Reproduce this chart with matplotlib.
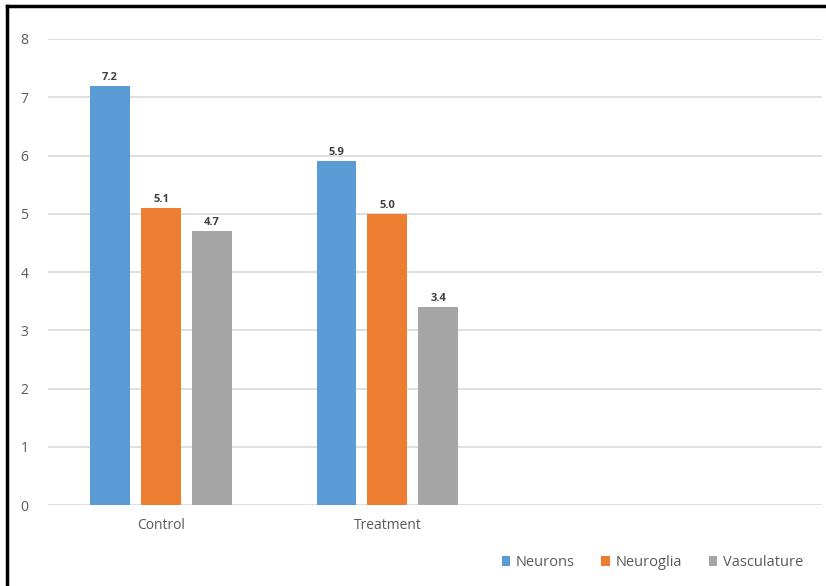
import matplotlib.pyplot as plt
import numpy as np
from matplotlib.lines import Line2D

categories = ['Control', 'Treatment']
series = ['Neurons', 'Neuroglia', 'Vasculature']
neurons = [7.2, 5.9]
neuroglia = [5.1, 5.0]
vasculature = [4.7, 3.4]
colors = ['#5B9BD5', '#ED7D31', '#A5A5A5']

plt.rcParams['font.family'] = ['Open Sans', 'DejaVu Sans']

fig = plt.figure(figsize=(8.26, 5.86), dpi=100)
ax = fig.add_axes([0.058, 0.138, 0.937, 0.7955])

x = np.arange(len(categories))
w = 0.176
offsets = [-0.225, 0, 0.225]
for vals, name, c, off in zip([neurons, neuroglia, vasculature], series, colors, offsets):
    bars = ax.bar(x + off, vals, w, color=c, label=name, zorder=3)
    for b, v in zip(bars, vals):
        ax.text(b.get_x() + b.get_width() / 2, v + 0.05, '%.1f' % v,
                ha='center', va='bottom', fontsize=8, fontweight='bold',
                color='#404040', zorder=4)

ax.set_xlim(-0.5, 2.92)
ax.set_ylim(0, 8)
ax.set_yticks(range(0, 9))
ax.set_xticks(x)
ax.set_xticklabels(categories)
ax.tick_params(axis='both', length=0, labelsize=10, colors='#595959')
ax.tick_params(axis='y', pad=14)
ax.tick_params(axis='x', pad=9)
ax.grid(axis='y', color='#D9D9D9', lw=1.2, zorder=0)
for s in ax.spines.values():
    s.set_visible(False)

fig.legend(loc='center', bbox_to_anchor=(0.79, 0.04), ncol=3, frameon=False,
           fontsize=10.5, handlelength=0.6, handleheight=0.6, handletextpad=0.4,
           columnspacing=1.8, labelcolor='#595959')

# black frame on top and left edges
fig.add_artist(Line2D([0.008, 1.0], [0.9895, 0.9895], color='black', lw=2.5,
                      transform=fig.transFigure))
fig.add_artist(Line2D([0.009, 0.009], [0.0, 0.9895], color='black', lw=2.5,
                      transform=fig.transFigure))

fig.savefig('out.png', dpi=100)
